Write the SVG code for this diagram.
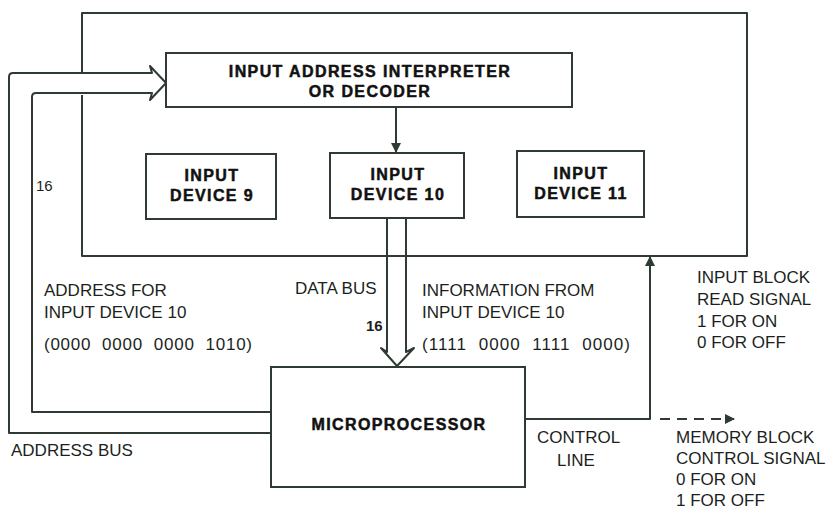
<svg xmlns="http://www.w3.org/2000/svg" width="834" height="509" viewBox="0 0 834 509">
  <defs>
    <style>
      .ln { fill: none; stroke: #2f3a33; stroke-width: 2; stroke-linejoin: round; }
      .box { fill: #ffffff; stroke: #2f3a33; stroke-width: 2; }
      .t { font-family: "Liberation Sans", Arial, sans-serif; font-size: 17px; fill: #1c1f1d; }
      .b { font-family: "Liberation Sans", Arial, sans-serif; font-size: 16px; font-weight: bold; fill: #111111; stroke: #111111; stroke-width: 0.5px; letter-spacing: 1.4px; text-anchor: middle; }
      .n { font-family: "Liberation Sans", Arial, sans-serif; font-size: 15px; fill: #1c1f1d; }
    </style>
    <marker id="head" viewBox="0 0 10 10" refX="9" refY="5" markerWidth="5" markerHeight="5" orient="auto" markerUnits="strokeWidth">
      <path d="M0,0 L10,5 L0,10 z" fill="#2f3a33"/>
    </marker>
  </defs>
  <rect width="834" height="509" fill="#ffffff"/>

  <!-- connectors -->
  <g id="connectors">
    <!-- input block enclosure -->
    <path class="ln" d="M82,73 L82,13 L747,13 L747,256 L82,256 L82,95"/>
    <!-- address bus (wide arrow into decoder) -->
    <path class="ln" d="M270,433 L9,433 L9,77 Q9,73 13,73 L152,73 L150,66 L166,83 L150,100 L152,93 L36,93 Q32,93 32,97 L32,412 L270,412"/>
    <!-- decoder to device 10 -->
    <line class="ln" x1="396" y1="107" x2="396" y2="152" marker-end="url(#head)"/>
    <!-- data bus (wide arrow into microprocessor) -->
    <path class="ln" d="M387,218 L387,352 L381,348 L397,366 L414,348 L406,352 L406,218"/>
    <!-- control line -->
    <path class="ln" d="M525,419 L650,419 L650,257" marker-end="url(#head)"/>
    <line class="ln" x1="660" y1="419" x2="734" y2="419" stroke-dasharray="10,7" marker-end="url(#head)"/>
  </g>

  <g id="decoder">
    <rect class="box" x="166" y="53" width="406" height="54"/>
    <text class="b" x="370" y="77">INPUT ADDRESS INTERPRETER</text>
    <text class="b" x="370" y="97">OR DECODER</text>
  </g>

  <g id="device9">
    <rect class="box" x="146" y="154" width="130" height="65"/>
    <text class="b" x="212" y="181">INPUT</text>
    <text class="b" x="212" y="201">DEVICE 9</text>
  </g>

  <g id="device10">
    <rect class="box" x="330" y="153" width="134" height="65"/>
    <text class="b" x="398" y="180">INPUT</text>
    <text class="b" x="398" y="200">DEVICE 10</text>
  </g>

  <g id="device11">
    <rect class="box" x="517" y="151" width="127" height="66"/>
    <text class="b" x="581" y="179">INPUT</text>
    <text class="b" x="581" y="199">DEVICE 11</text>
  </g>

  <g id="microprocessor">
    <rect class="box" x="271" y="367" width="254" height="120"/>
    <text class="b" x="399" y="430">MICROPROCESSOR</text>
  </g>

  <!-- labels -->
  <g id="labels">
    <text class="n" x="36" y="191">16</text>
    <text class="n" x="366" y="331" font-size="14" font-weight="bold">16</text>

    <text class="t" x="44" y="296">ADDRESS FOR</text>
    <text class="t" x="44" y="318">INPUT DEVICE 10</text>
    <text class="t" x="44" y="350" textLength="208" lengthAdjust="spacing" xml:space="preserve">(0000  0000  0000  1010)</text>

    <text class="t" x="295" y="294">DATA BUS</text>

    <text class="t" x="422" y="296">INFORMATION FROM</text>
    <text class="t" x="422" y="318">INPUT DEVICE 10</text>
    <text class="t" x="422" y="350" textLength="208" lengthAdjust="spacing" xml:space="preserve">(1111  0000  1111  0000)</text>

    <text class="t" x="697" y="283">INPUT BLOCK</text>
    <text class="t" x="697" y="305">READ SIGNAL</text>
    <text class="t" x="697" y="327">1 FOR ON</text>
    <text class="t" x="697" y="348">0 FOR OFF</text>

    <text class="t" x="11" y="456">ADDRESS BUS</text>

    <text class="t" x="537" y="443">CONTROL</text>
    <text class="t" x="557" y="466">LINE</text>

    <text class="t" x="676" y="443">MEMORY BLOCK</text>
    <text class="t" x="676" y="464">CONTROL SIGNAL</text>
    <text class="t" x="676" y="485">0 FOR ON</text>
    <text class="t" x="676" y="506">1 FOR OFF</text>
  </g>
</svg>
